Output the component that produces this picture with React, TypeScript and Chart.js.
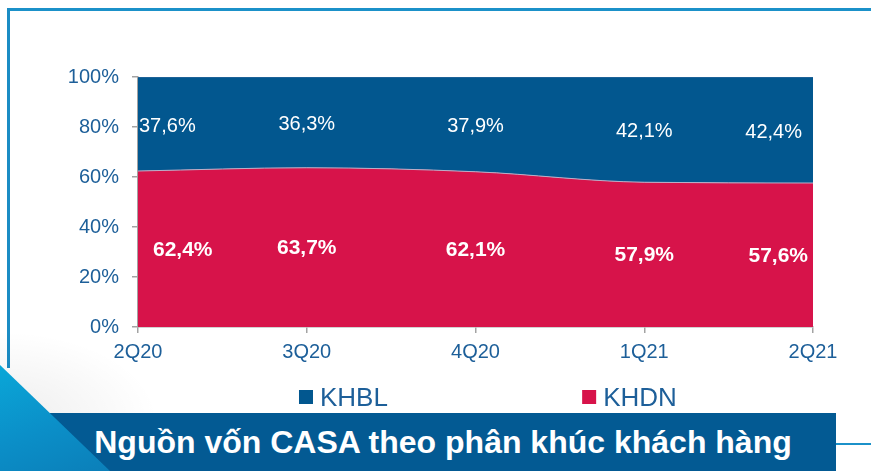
import React, { useEffect, useRef } from "react";
import { Chart, registerables } from "chart.js";

Chart.register(...registerables);

const categories = ["2Q20", "3Q20", "4Q20", "1Q21", "2Q21"];
const khdnValues = [62.4, 63.7, 62.1, 57.9, 57.6];
const khblValues = [37.6, 36.3, 37.9, 42.1, 42.4];
const yTickValues = [0, 20, 40, 60, 80, 100];
const legendOrder = ["KHBL", "KHDN"];
const titleText = "Nguồn vốn CASA theo phân khúc khách hàng";

const BLUE = "#02578f";
const RED = "#d7134a";
const TEXT_BLUE = "#1d5f99";
const AXIS_GREY = "#a3a3a3";
const FONT = '"Liberation Sans", Arial, sans-serif';

const fmt = (v: number) => v.toFixed(1).replace(".", ",") + "%";

const labelPlugin = {
  id: "areaLabels",
  afterDatasetsDraw(chart: any) {
    const { ctx, chartArea, scales } = chart;
    const x = scales.x;
    const y = scales.y;
    chart.data.datasets.forEach((ds: any, di: number) => {
      const st = ds.labelStyle;
      ctx.save();
      ctx.font = `${st.weight} ${st.size}px ${FONT}`;
      ctx.fillStyle = "#ffffff";
      ctx.textBaseline = "middle";
      ctx.textAlign = "left";
      ds.data.forEach((v: number, j: number) => {
        let base = 0;
        for (let k = 0; k < di; k++) base += chart.data.datasets[k].data[j];
        const text = fmt(v);
        const w = ctx.measureText(text).width;
        let lx = x.getPixelForValue(j) - w / 2;
        lx = Math.max(chartArea.left + st.padL, Math.min(chartArea.right - st.padR - w, lx));
        const ly = y.getPixelForValue(base + v / 2) + st.dy;
        ctx.fillText(text, lx, ly);
      });
      ctx.restore();
    });
  },
};

const legendPlugin = {
  id: "customLegend",
  afterDraw(chart: any) {
    const { ctx, chartArea } = chart;
    const w = chartArea.right - chartArea.left;
    const fracs = [0.2385, 0.658];
    legendOrder.forEach((name, i) => {
      const ds = chart.data.datasets.find((d: any) => d.label === name);
      const sx = chartArea.left + w * fracs[i];
      const sy = 390;
      ctx.save();
      ctx.fillStyle = ds.backgroundColor;
      ctx.fillRect(sx, sy, 14, 14);
      ctx.fillStyle = TEXT_BLUE;
      ctx.font = `26px ${FONT}`;
      ctx.textBaseline = "alphabetic";
      ctx.textAlign = "left";
      ctx.fillText(name, sx + 21, 406);
      ctx.restore();
    });
  },
};

export default function App() {
  const ref = useRef<HTMLCanvasElement | null>(null);

  useEffect(() => {
    if (!ref.current) return;
    Chart.defaults.font.family = FONT;
    const chart = new Chart(ref.current, {
      type: "line",
      data: {
        labels: categories,
        datasets: [
          {
            label: "KHDN",
            data: khdnValues,
            backgroundColor: RED,
            borderColor: "#b9b0c9",
            borderWidth: 1,
            fill: "origin",
            cubicInterpolationMode: "monotone",
            pointRadius: 0,
            labelStyle: { weight: "bold", size: 21, padL: 15, padR: 5, dy: 1 },
          } as any,
          {
            label: "KHBL",
            data: khblValues,
            backgroundColor: BLUE,
            borderColor: "#3a6f9f",
            borderWidth: 1,
            fill: "-1",
            cubicInterpolationMode: "monotone",
            pointRadius: 0,
            labelStyle: { weight: "normal", size: 20, padL: 1, padR: 11, dy: 2 },
          } as any,
        ],
      },
      options: {
        animation: false,
        responsive: false,
        devicePixelRatio: 1,
        layout: { padding: { top: 77, right: 58, left: 0, bottom: 0 } },
        plugins: {
          legend: { display: false },
          tooltip: { enabled: false },
        },
        scales: {
          x: {
            type: "category",
            offset: false,
            grid: {
              display: true,
              drawOnChartArea: false,
              drawTicks: true,
              tickLength: 6,
              color: AXIS_GREY,
              lineWidth: 1.5,
            },
            border: { display: true, color: AXIS_GREY, width: 1.5 },
            ticks: {
              color: TEXT_BLUE,
              font: { size: 20, family: FONT },
              padding: 7,
              maxRotation: 0,
              autoSkip: false,
            },
            afterFit(s: any) {
              s.height = 144;
            },
          },
          y: {
            stacked: true,
            min: 0,
            max: 100,
            afterBuildTicks(s: any) {
              s.ticks = yTickValues.map((v) => ({ value: v }));
            },
            grid: {
              display: true,
              drawOnChartArea: false,
              drawTicks: true,
              tickLength: 6,
              color: AXIS_GREY,
              lineWidth: 1.5,
            },
            border: { display: true, color: AXIS_GREY, width: 1.5 },
            ticks: {
              color: TEXT_BLUE,
              font: { size: 20, family: FONT },
              padding: 13,
              callback: (v: any) => v + "%",
            },
            afterFit(s: any) {
              s.width = 138;
            },
          },
        },
      } as any,
      plugins: [labelPlugin, legendPlugin],
    });
    return () => chart.destroy();
  }, []);

  return (
    <div
      style={{
        position: "fixed",
        left: 0,
        top: 0,
        width: 871,
        height: 471,
        overflow: "hidden",
        background: "#ffffff",
      }}
    >
      {/* frame lines */}
      <div style={{ position: "absolute", left: 7, top: 8, width: 864, height: 3, background: "#1b91c9" }} />
      <div style={{ position: "absolute", left: 7, top: 8, width: 3, height: 360, background: "#1b8cc4" }} />
      <div style={{ position: "absolute", left: 836, top: 443, width: 35, height: 2, background: "#1b91c9" }} />
      {/* soft shadow near the corner */}
      <div
        style={{
          position: "absolute",
          left: 0,
          top: 330,
          width: 160,
          height: 90,
          background: "radial-gradient(ellipse at 0% 100%, rgba(0,0,0,0.07), rgba(0,0,0,0) 70%)",
        }}
      />
      <canvas ref={ref} width={871} height={471} style={{ position: "absolute", left: 0, top: 0, width: 871, height: 471 }} />
      {/* title banner */}
      <div
        style={{
          position: "absolute",
          left: 50,
          top: 413,
          width: 786,
          height: 58,
          background: "#035a93",
          color: "#ffffff",
          fontFamily: FONT,
          fontWeight: "bold",
          fontSize: 32,
          display: "flex",
          alignItems: "center",
          justifyContent: "center",
          whiteSpace: "nowrap",
        }}
      >
        {titleText}
      </div>
      {/* corner triangle */}
      <div
        style={{
          position: "absolute",
          left: 0,
          top: 365,
          width: 110,
          height: 106,
          background: "linear-gradient(160deg, #0aa7d8 0%, #0b8fc8 55%, #0b7fb9 100%)",
          clipPath: "polygon(0 0, 110px 106px, 0 106px)",
        }}
      />
    </div>
  );
}
